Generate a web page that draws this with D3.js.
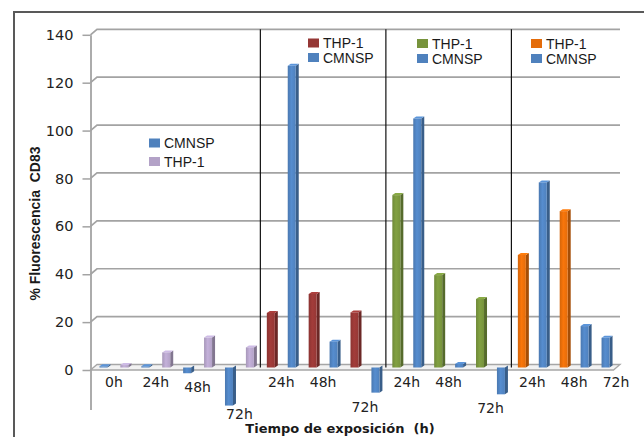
<!DOCTYPE html>
<html>
<head>
<meta charset="utf-8">
<script src="https://cdn.jsdelivr.net/npm/d3@7"></script>
<style>
  html, body { margin: 0; padding: 0; background: #fff; }
  svg { display: block; }
</style>
</head>
<body>
<div id="chart"></div>
<script>
// chart data, one panel per treatment
var panelTimes = [
  ["0h", "24h", "48h", "72h"],
  ["24h", "48h", "72h"],
  ["24h", "48h", "72h"],
  ["24h", "48h", "72h"]
];
var panelSeriesOrder = [
  ["CMNSP", "THP-1"],
  ["THP-1", "CMNSP"],
  ["THP-1", "CMNSP"],
  ["THP-1", "CMNSP"]
];
var cmnspValues = [
  [0.5, 0.5, -2.4, -15.9],
  [126, 10.8, -10.5],
  [104, 1.5, -11.2],
  [77.3, 17.3, 12.4]
];
var thp1Values = [
  [1, 6.3, 12.5, 8.4],
  [22.8, 30.7, 23],
  [72, 38.6, 28.6],
  [47, 65.3, null]
];
var yTicks = [0, 20, 40, 60, 80, 100, 120, 140];
var yTitle = "% Fluorescencia  CD83";
var xTitle = "Tiempo de exposición  (h)";

var cmnspColor = "#4f81bd";
var thp1Colors = ["#b3a2c7", "#953735", "#77933c", "#e46c0a"];

var width = 644, height = 437;
var depthX = 6.5, depthY = 5.5;   // 3d offset of the back wall

// flatten panels into a list of bars and a list of time labels
var bars = [];
var pairs = [];
panelTimes.forEach(function (times, p) {
  times.forEach(function (t, i) {
    var pair = { panel: p, time: t, first: bars.length, values: [] };
    panelSeriesOrder[p].forEach(function (s) {
      var v = s == "CMNSP" ? cmnspValues[p][i] : thp1Values[p][i];
      if (v == null) return;
      bars.push({ panel: p, time: t, series: s, value: v,
                  color: s == "CMNSP" ? cmnspColor : thp1Colors[p] });
      pair.values.push(v);
    });
    pairs.push(pair);
  });
});

var svg = d3.select("#chart").append("svg")
  .attr("width", width)
  .attr("height", height);

// bar gradients, lighter towards the middle of the face
var defs = svg.append("defs");
var allColors = [cmnspColor].concat(thp1Colors);
allColors.forEach(function (c, i) {
  var g = defs.append("linearGradient").attr("id", "grad" + i)
    .attr("x1", "0%").attr("x2", "100%").attr("y1", "0%").attr("y2", "0%");
  g.append("stop").attr("offset", "0%").attr("stop-color", d3.color(c).darker(0.2));
  g.append("stop").attr("offset", "45%").attr("stop-color", d3.color(c).brighter(0.25));
  g.append("stop").attr("offset", "100%").attr("stop-color", c);
});
function gradFor(c) { return "url(#grad" + allColors.indexOf(c) + ")"; }

// outer frame (left and top edges only)
svg.append("path")
  .attr("d", "M14,437 L14,12 L644,12")
  .attr("fill", "none")
  .attr("stroke", "#595959")
  .attr("stroke-width", 2);

var x = d3.scaleBand()
  .domain(d3.range(bars.length))
  .range([93, 616]);

var y = d3.scaleLinear()
  .domain([0, 140])
  .range([367.5, 32.3]);

var axisX = 90.5;
var wallX = axisX + depthX;
var wallRight = 620;

// floor
var y0 = y(0);
svg.append("polygon")
  .attr("points", [
    [axisX, y0 + 2.5], [wallX, y0 - 3], [wallRight, y0 - 3], [wallRight - depthX, y0 + 2.5]
  ].join(" "))
  .attr("fill", "#f2f2f2")
  .attr("stroke", "#a6a6a6")
  .attr("stroke-width", 1.3);

// gridlines on the back wall, with the bevel to the front axis
svg.append("g").selectAll("path")
  .data(yTicks.filter(function (d) { return d > 0; }))
  .enter()
  .append("path")
  .attr("d", function (d) {
    return "M" + axisX + "," + (y(d) + 2.5) + " L" + wallX + "," + (y(d) - 3) +
      " L" + wallRight + "," + (y(d) - 3);
  })
  .attr("fill", "none")
  .attr("stroke", "#a3a3a3")
  .attr("stroke-width", 1.7);

// y axis at the front
var yMin = -16.5;
var yAxisScale = d3.scaleLinear()
  .domain([yMin, 140])
  .range([y(yMin) + 2.5, y(140) + 2.5]);
var yAxis = svg.append("g")
  .attr("transform", "translate(" + axisX + ",0)")
  .call(d3.axisLeft(yAxisScale).tickValues(yTicks).tickSize(8).tickSizeOuter(0).tickPadding(9));
yAxis.select(".domain").attr("stroke", "#a3a3a3").attr("stroke-width", 1.8);
yAxis.selectAll(".tick line").attr("stroke", "#a3a3a3").attr("stroke-width", 1.5);
yAxis.selectAll(".tick text")
  .attr("font-family", "DejaVu Sans, Verdana, sans-serif")
  .attr("font-size", "14.5px")
  .attr("fill", "#222");

// panel separators
var panelStarts = [];
bars.forEach(function (b, i) {
  if (i > 0 && bars[i - 1].panel != b.panel) panelStarts.push(i);
});
svg.append("g").selectAll("line")
  .data(panelStarts)
  .enter()
  .append("line")
  .attr("x1", function (d) { return x(d); })
  .attr("x2", function (d) { return x(d); })
  .attr("y1", y(140) - 3)
  .attr("y2", y(0))
  .attr("stroke", "#111")
  .attr("stroke-width", 1.2);

// 3d bars: side face, top face, front face
var barW = 8, sideW = 3, sideH = 2;
var barG = svg.append("g").selectAll("g")
  .data(bars)
  .enter()
  .append("g");

function frontX(d) { return x(bars.indexOf(d)) + x.bandwidth() / 2 - barW / 2; }

barG.append("polygon")
  .attr("points", function (d) {
    var x0 = frontX(d) + barW;
    var top = Math.min(y(d.value), y0), bot = Math.max(y(d.value), y0);
    return [[x0, top], [x0 + sideW, top - sideH], [x0 + sideW, bot - sideH], [x0, bot]].join(" ");
  })
  .attr("fill", function (d) { return d3.color(d.color).darker(0.9); });

barG.filter(function (d) { return d.value > 0; })
  .append("polygon")
  .attr("points", function (d) {
    var x0 = frontX(d), top = y(d.value);
    return [[x0, top], [x0 + sideW, top - sideH], [x0 + barW + sideW, top - sideH], [x0 + barW, top]].join(" ");
  })
  .attr("fill", function (d) { return d3.color(d.color).brighter(0.4); });

barG.append("rect")
  .attr("x", frontX)
  .attr("y", function (d) { return Math.min(y(d.value), y0); })
  .attr("width", barW)
  .attr("height", function (d) { return Math.max(Math.abs(y(d.value) - y0), 0.8); })
  .attr("fill", function (d) { return gradFor(d.color); });

// time labels under each pair of bars
svg.append("g").selectAll("text")
  .data(pairs)
  .enter()
  .append("text")
  .attr("x", function (d) { return x(d.first) + x.bandwidth(); })
  .attr("y", function (d) {
    var low = Math.max(y0, y(d3.min(d.values)));
    return Math.min(low + 14, 414);
  })
  .attr("text-anchor", "middle")
  .attr("dominant-baseline", "central")
  .attr("font-family", "DejaVu Sans, Verdana, sans-serif")
  .attr("font-size", "14px")
  .attr("fill", "#222")
  .text(function (d) { return d.time; });

// legends, one per panel
var legendPos = [
  { x: 149, y: 143, dy: 18.5 },
  { x: 308, y: 43, dy: 14.5 },
  { x: 417, y: 43.5, dy: 15 },
  { x: 531, y: 43.5, dy: 15 }
];
panelSeriesOrder.forEach(function (order, p) {
  var lg = svg.append("g")
    .attr("transform", "translate(" + legendPos[p].x + "," + legendPos[p].y + ")");
  order.forEach(function (s, i) {
    var c = s == "CMNSP" ? cmnspColor : thp1Colors[p];
    lg.append("rect")
      .attr("x", 0)
      .attr("y", i * legendPos[p].dy - 4.5)
      .attr("width", 11)
      .attr("height", 9)
      .attr("fill", c);
    lg.append("text")
      .attr("x", 15)
      .attr("y", i * legendPos[p].dy)
      .attr("dominant-baseline", "central")
      .attr("font-family", "Liberation Sans, Arial, sans-serif")
      .attr("font-size", "14px")
      .attr("fill", "#1a1a1a")
      .text(s);
  });
});

// axis titles
svg.append("text")
  .attr("transform", "translate(35,223.5) rotate(-90)")
  .attr("text-anchor", "middle")
  .attr("dominant-baseline", "central")
  .attr("font-family", "Liberation Sans, Arial, sans-serif")
  .attr("font-weight", "bold")
  .attr("font-size", "14px")
  .attr("fill", "#1a1a1a")
  .style("white-space", "pre")
  .text(yTitle);

svg.append("text")
  .attr("x", 340)
  .attr("y", 428)
  .attr("text-anchor", "middle")
  .attr("dominant-baseline", "central")
  .attr("font-family", "DejaVu Sans, Verdana, sans-serif")
  .attr("font-weight", "bold")
  .attr("font-size", "13px")
  .attr("fill", "#1a1a1a")
  .style("white-space", "pre")
  .text(xTitle);
</script>
</body>
</html>
